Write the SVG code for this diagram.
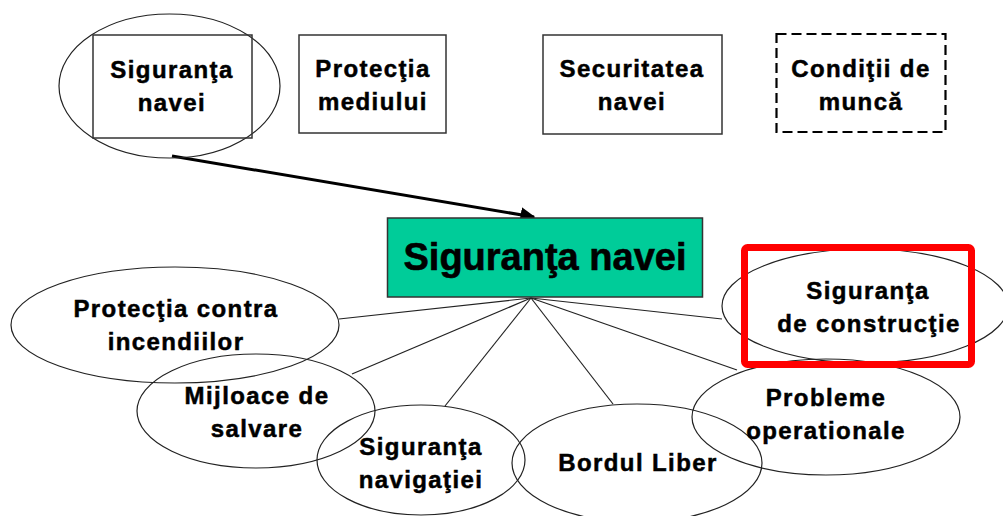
<svg xmlns="http://www.w3.org/2000/svg" width="1003" height="516" viewBox="0 0 1003 516">
<defs>
<style>
.t{font-family:"Liberation Sans",Arial,sans-serif;font-weight:bold;font-size:24px;letter-spacing:1.4px;fill:#000;stroke:#000;stroke-width:0.5;text-anchor:middle}
.big{font-family:"Liberation Sans",Arial,sans-serif;font-weight:bold;font-size:38px;fill:#000;stroke:#000;stroke-width:0.6;text-anchor:middle}
.e{fill:none;stroke:#222;stroke-width:1.2}
.b{fill:#fff;stroke:#333;stroke-width:1.5}
.c{stroke:#222;stroke-width:1.2;fill:none}
</style>
<marker id="ah" viewBox="0 0 10 10" refX="9" refY="5" markerWidth="5" markerHeight="5" orient="auto" markerUnits="strokeWidth">
<path d="M0,0 L10,5 L0,10 z" fill="#000"/>
</marker>
</defs>
<rect width="1003" height="516" fill="#fff"/>

<g id="connectors">
<line x1="172" y1="156" x2="534" y2="217" stroke="#000" stroke-width="3" marker-end="url(#ah)"/>
<line class="c" x1="531" y1="298" x2="339" y2="319"/>
<line class="c" x1="531" y1="298" x2="352" y2="374"/>
<line class="c" x1="531" y1="298" x2="445" y2="406"/>
<line class="c" x1="531" y1="298" x2="613" y2="404"/>
<line class="c" x1="531" y1="298" x2="737" y2="370"/>
<line class="c" x1="531" y1="298" x2="722" y2="319"/>
</g>

<g id="node-siguranta-top">
<ellipse class="e" cx="169.5" cy="86" rx="110.5" ry="72"/>
<rect x="93" y="35" width="159" height="103" fill="none" stroke="#333" stroke-width="1.5"/>
<text class="t" x="172" y="78">Siguranţa</text>
<text class="t" x="172" y="111">navei</text>
</g>

<g id="node-protectia-mediului">
<rect class="b" x="299" y="35" width="147" height="98"/>
<text class="t" x="373" y="77">Protecţia</text>
<text class="t" x="373" y="110">mediului</text>
</g>

<g id="node-securitatea">
<rect class="b" x="543" y="35" width="179" height="99"/>
<text class="t" x="632" y="77">Securitatea</text>
<text class="t" x="632" y="110">navei</text>
</g>

<g id="node-conditii">
<rect x="776.5" y="34" width="169" height="98" fill="#fff" stroke="#000" stroke-width="2.2" stroke-dasharray="10,5"/>
<text class="t" x="861" y="77">Condiţii de</text>
<text class="t" x="861" y="110">muncă</text>
</g>

<g id="node-main">
<rect x="387.5" y="218" width="315" height="79" fill="#00CC99" stroke="#333" stroke-width="1.5"/>
<text class="big" x="545" y="270">Siguranţa navei</text>
</g>

<g id="node-incendii">
<ellipse class="e" cx="175" cy="325" rx="164" ry="58"/>
<text class="t" x="176" y="317">Protecţia contra</text>
<text class="t" x="176" y="350">incendiilor</text>
</g>

<g id="node-salvare">
<ellipse class="e" cx="256" cy="411" rx="119" ry="57"/>
<text class="t" x="257" y="404">Mijloace de</text>
<text class="t" x="257" y="437">salvare</text>
</g>

<g id="node-navigatie">
<ellipse class="e" cx="421" cy="460" rx="104" ry="55"/>
<text class="t" x="421" y="455">Siguranţa</text>
<text class="t" x="421" y="488">navigaţiei</text>
</g>

<g id="node-bordul">
<ellipse class="e" cx="637" cy="463" rx="125" ry="59"/>
<text class="t" x="638" y="471">Bordul Liber</text>
</g>

<g id="node-probleme">
<ellipse class="e" cx="826" cy="417" rx="134" ry="58"/>
<text class="t" x="826" y="406">Probleme</text>
<text class="t" x="826" y="439">operationale</text>
</g>

<g id="node-constructie">
<ellipse class="e" cx="865" cy="306" rx="143" ry="57"/>
<text class="t" x="868" y="299">Siguranţa</text>
<text class="t" x="869" y="332">de construcţie</text>
<rect x="744.5" y="247.5" width="227" height="117" rx="3" fill="none" stroke="#f00" stroke-width="7"/>
</g>
</svg>
